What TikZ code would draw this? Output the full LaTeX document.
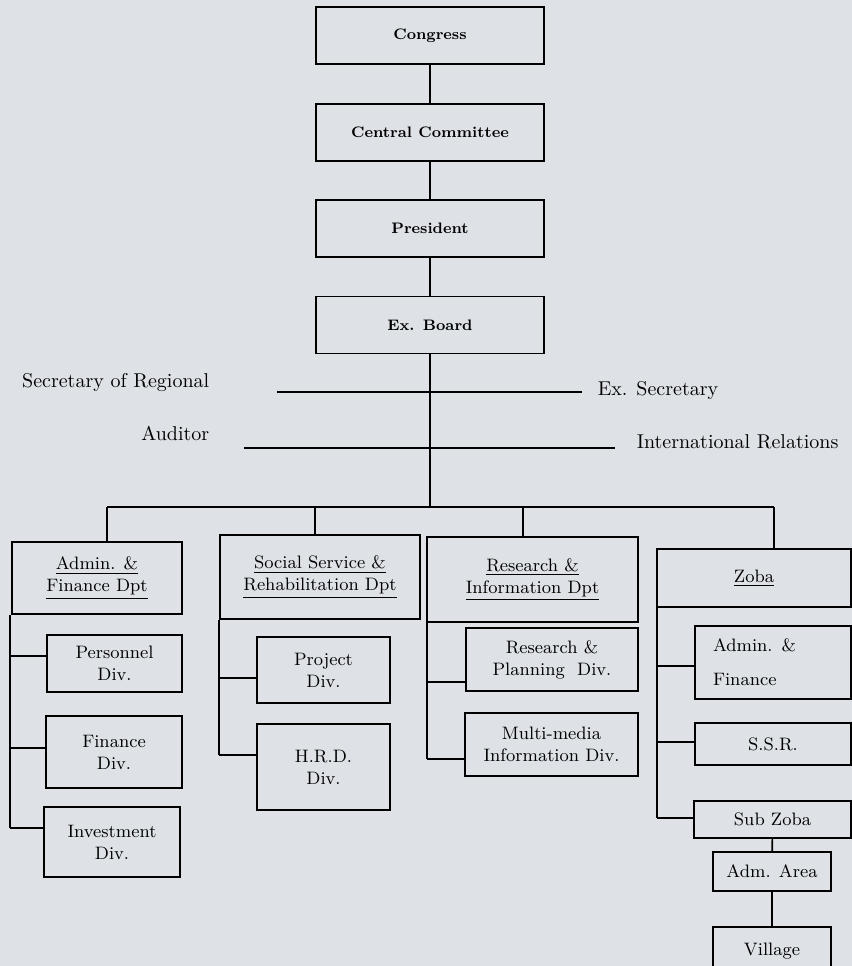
\documentclass[tikz,border=0pt]{standalone}
\usepackage{tikz}
\usetikzlibrary{positioning,shapes}
\definecolor{paper}{RGB}{222,226,231}

\begin{document}
\begin{tikzpicture}[x=0.5pt,y=-0.5pt,line width=0.8pt]
\tikzstyle{unit}=[shape=rectangle,draw,text=black,align=center,inner sep=1pt,font=\small]
\tikzstyle{head}=[unit,minimum width=114pt,minimum height=28.5pt,font=\bfseries\fontsize{7.6}{9}\selectfont]
\tikzstyle{side}=[inner sep=0pt]

\fill[paper] (0,0) rectangle (852,966);
\useasboundingbox (0,0) rectangle (852,966);

% top of the chart
\node[head]		(C) at (430,35.5)                         {Congress};
\node[head]		(CC) [below of=C, node distance=48.5pt]   {Central Committee};
\node[head]		(P) [below of=CC, node distance=48pt]     {President};
\node[head]		(EB) [below of=P, node distance=48.25pt]  {Ex. Board};

% offices beside the board
\node[side]		(SR) [anchor=east] at (210,382) {Secretary of Regional};
\node[side]		(ES) [anchor=west] at (597,390) {Ex. Secretary};
\node[side]		(AU) [anchor=east] at (210,433) {Auditor};
\node[side]		(IR) [anchor=west] at (636,442) {International Relations};
\coordinate (s1) at (277,392); \coordinate (s2) at (582,392);
\coordinate (a1) at (244,448); \coordinate (a2) at (615,448);

% departments
\node[unit,minimum width=85pt,minimum height=36pt]   (AF) at (97,578)    {\underline{Admin. \&}\\\underline{Finance Dpt}};
\node[unit,minimum width=100pt,minimum height=42pt]  (SS) at (320,577)   {\underline{Social Service \&}\\\underline{Rehabilitation Dpt}};
\node[unit,minimum width=105.5pt,minimum height=42.5pt] (RI) at (532.5,579.5) {\underline{Research \&}\\\underline{Information Dpt}};
\node[unit,minimum width=97pt,minimum height=29pt]   (Z) at (754,578)    {\underline{Zoba}};

% divisions
\node[unit,minimum width=67.5pt,minimum height=28.5pt] (PD) at (114.5,663.5) {Personnel\\Div.};
\node[unit,minimum width=68pt,minimum height=36pt]     (FD) at (114,752)     {Finance\\Div.};
\node[unit,minimum width=68pt,minimum height=35pt]     (ID) at (112,842)     {Investment\\Div.};
\node[unit,minimum width=66.5pt,minimum height=33pt]   (PJ) at (323.5,670)   {Project\\Div.};
\node[unit,minimum width=66.5pt,minimum height=43pt]   (HR) at (323.5,767)   {H.R.D.\\Div.};
\node[unit,minimum width=86pt,minimum height=31.5pt]   (RP) at (552,659.5)   {Research \&\\Planning~ Div.};
\node[unit,minimum width=86.5pt,minimum height=31.5pt] (MM) at (551.5,744.5) {Multi-media\\Information Div.};
\node[unit,align=left,text width=60pt,inner xsep=9pt,minimum height=36.5pt] (ZA) at (773,662.5) {Admin. \&\\[6pt]Finance};
\node[unit,minimum width=78pt,minimum height=21pt]     (ZS) at (773,744)     {S.S.R.};
\node[unit,minimum width=78.5pt,minimum height=18.5pt] (SZ) at (772.5,819.5) {Sub Zoba};
\node[unit,minimum width=59pt,minimum height=19.5pt]   (AA) at (772,871.5)   {Adm. Area};
\node[unit,minimum width=59pt,minimum height=24pt]     (V) at (772,951)      {Village};

% bus and branch points
\coordinate (b1) at (107,507); \coordinate (b2) at (315,507);
\coordinate (b3) at (523,507); \coordinate (b4) at (774,507);
\coordinate (k1) at (10,656);  \coordinate (k2) at (10,748);  \coordinate (k3) at (10,828);
\coordinate (k4) at (219,678); \coordinate (k5) at (219,755);
\coordinate (k6) at (427,682); \coordinate (k7) at (427,759);
\coordinate (k8) at (657,666); \coordinate (k9) at (657,742); \coordinate (k10) at (657,818);

\path
(C) edge (CC)
(CC) edge (P)
(P) edge (EB)
(EB) edge (EB |- b1)
(s1) edge (s2)
(a1) edge (a2)
(b1) edge (b4)
(b1) edge (b1 |- AF.north)
(b2) edge (b2 |- SS.north)
(b3) edge (b3 |- RI.north)
(b4) edge (b4 |- Z.north)
(k3 |- AF.south) edge (k3)
(k5 |- SS.south) edge (k5)
(k7 |- RI.south) edge (k7)
(k10 |- Z.south) edge (k10)
(k1) edge (k1 -| PD.west)
(k2) edge (k2 -| FD.west)
(k3) edge (k3 -| ID.west)
(k4) edge (k4 -| PJ.west)
(k5) edge (k5 -| HR.west)
(k6) edge (k6 -| RP.west)
(k7) edge (k7 -| MM.west)
(k8) edge (k8 -| ZA.west)
(k9) edge (k9 -| ZS.west)
(k10) edge (k10 -| SZ.west)
(SZ) edge (AA)
(AA) edge (V)
;
\end{tikzpicture}
\end{document}
